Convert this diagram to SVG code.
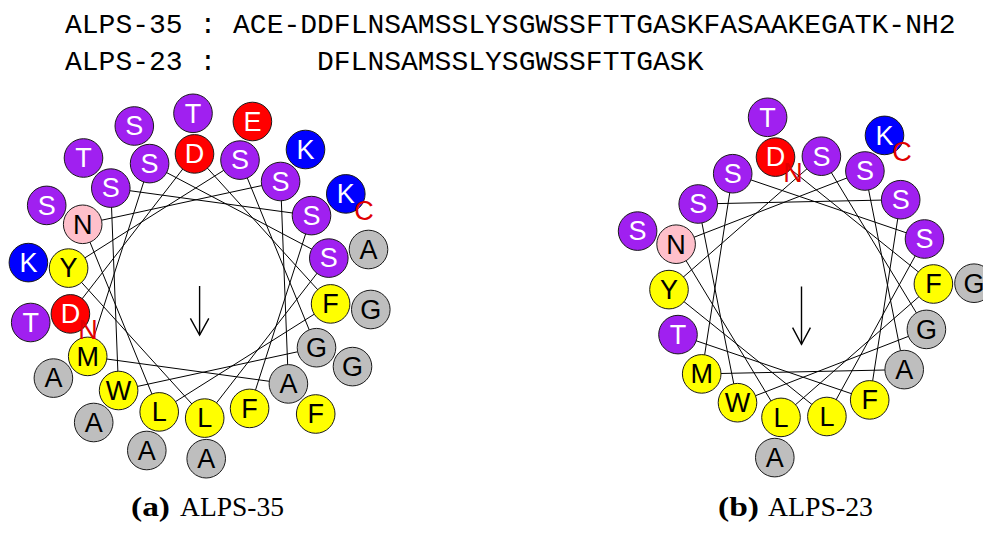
<svg xmlns="http://www.w3.org/2000/svg" width="983" height="545" viewBox="0 0 983 545">
<style>
.seq{font-family:"Liberation Mono","Courier New",monospace;font-size:28px;fill:#000}
.cap{font-family:"Liberation Serif","Times New Roman",serif;font-size:27px;fill:#000}
.capb{font-family:"Liberation Serif","Times New Roman",serif;font-size:27px;font-weight:bold;fill:#000}
circle{stroke:#1a1a1a;stroke-width:1}
.pu{fill:#A020F0}.rd{fill:#FF0000}.bl{fill:#0000FF}.ye{fill:#FFFF00}.gy{fill:#BEBEBE}.pk{fill:#FFC0CB}
.res text{font-family:"Liberation Sans",Arial,sans-serif;font-size:27px;text-anchor:middle}
.w{fill:#fff}.k{fill:#000}
.term{font-family:"Liberation Sans",Arial,sans-serif;font-size:17px;fill:#E00000;text-anchor:middle}
.con line{stroke:#000;stroke-width:1;fill:none}
.arr line,.arr polyline{stroke:#000;stroke-width:1.4;fill:none}
</style>
<defs>
<circle id="c" r="19.3"/>
</defs>

<g id="sequences">
<text class="seq" x="65" y="33.3">ALPS-35 : ACE-DDFLNSAMSSLYSGWSSFTTGASKFASAAKEGATK-NH2</text>
<text class="seq" x="65" y="70">ALPS-23 :</text>
<text class="seq" x="317" y="70">DFLNSAMSSLYSGWSSFTTGASK</text>
</g>

<!-- connectors -->
<g id="connectors" class="con">
<g id="conn-a">
<line x1="70.4" y1="313.9" x2="194.5" y2="153.9"/>
<line x1="194.5" y1="153.9" x2="330.6" y2="303.9"/>
<line x1="330.6" y1="303.9" x2="159.2" y2="411.9"/>
<line x1="159.2" y1="411.9" x2="82.7" y2="224.3"/>
<line x1="82.7" y1="224.3" x2="280.6" y2="181.5"/>
<line x1="280.6" y1="181.5" x2="288.4" y2="383.9"/>
<line x1="288.4" y1="383.9" x2="87.7" y2="356.4"/>
<line x1="87.7" y1="356.4" x2="149.6" y2="163.6"/>
<line x1="149.6" y1="163.6" x2="328.8" y2="258.1"/>
<line x1="328.8" y1="258.1" x2="204.7" y2="418.1"/>
<line x1="204.7" y1="418.1" x2="68.6" y2="268.1"/>
<line x1="68.6" y1="268.1" x2="240.0" y2="160.1"/>
<line x1="240.0" y1="160.1" x2="316.5" y2="347.7"/>
<line x1="316.5" y1="347.7" x2="118.6" y2="390.5"/>
<line x1="118.6" y1="390.5" x2="110.8" y2="188.1"/>
<line x1="110.8" y1="188.1" x2="311.5" y2="215.6"/>
<line x1="311.5" y1="215.6" x2="249.6" y2="408.4"/>
</g>
<g id="conn-b">
<line x1="775.5" y1="157.1" x2="933.4" y2="284.0"/>
<line x1="933.4" y1="284.0" x2="781.0" y2="417.4"/>
<line x1="781.0" y1="417.4" x2="676.1" y2="244.2"/>
<line x1="676.1" y1="244.2" x2="864.9" y2="171.0"/>
<line x1="864.9" y1="171.0" x2="904.2" y2="369.6"/>
<line x1="904.2" y1="369.6" x2="701.7" y2="373.9"/>
<line x1="701.7" y1="373.9" x2="732.7" y2="173.7"/>
<line x1="732.7" y1="173.7" x2="924.5" y2="239.0"/>
<line x1="924.5" y1="239.0" x2="826.9" y2="416.5"/>
<line x1="826.9" y1="416.5" x2="669.0" y2="289.6"/>
<line x1="669.0" y1="289.6" x2="821.4" y2="156.2"/>
<line x1="821.4" y1="156.2" x2="926.4" y2="329.4"/>
<line x1="926.4" y1="329.4" x2="737.5" y2="402.7"/>
<line x1="737.5" y1="402.7" x2="698.2" y2="204.0"/>
<line x1="698.2" y1="204.0" x2="900.7" y2="199.7"/>
<line x1="900.7" y1="199.7" x2="869.7" y2="399.9"/>
<line x1="869.7" y1="399.9" x2="678.0" y2="334.6"/>
</g>
</g>

<g id="moments" class="arr">
<line x1="199.6" y1="286" x2="199.6" y2="335"/>
<polyline points="190.4,318.3 199.6,335 208.8,318.3"/>
<line x1="801.5" y1="286.5" x2="801.5" y2="344.3"/>
<polyline points="792.6,327.7 801.5,344.3 810.4,327.7"/>
</g>

<!-- ALPS-35 wheel: outer ring -->
<g id="wheel-a" class="res">
<g id="a19"><use href="#c" x="30.7" y="322.5" class="pu"/><text x="30.7" y="331.8" class="w">T</text></g>
<g id="a20"><use href="#c" x="193.0" y="113.3" class="pu"/><text x="193.0" y="122.6" class="w">T</text></g>
<g id="a21"><use href="#c" x="370.8" y="309.5" class="gy"/><text x="370.8" y="318.8" class="k">G</text></g>
<g id="a22"><use href="#c" x="146.8" y="450.5" class="gy"/><text x="146.8" y="459.8" class="k">A</text></g>
<g id="a23"><use href="#c" x="46.7" y="205.4" class="pu"/><text x="46.7" y="214.7" class="w">S</text></g>
<g id="a24"><use href="#c" x="305.5" y="149.5" class="bl"/><text x="305.5" y="158.8" class="w">K</text></g>
<g id="a25"><use href="#c" x="315.7" y="414.0" class="ye"/><text x="315.7" y="423.3" class="k">F</text></g>
<g id="a26"><use href="#c" x="53.4" y="378.1" class="gy"/><text x="53.4" y="387.4" class="k">A</text></g>
<g id="a27"><use href="#c" x="134.3" y="126.0" class="pu"/><text x="134.3" y="135.3" class="w">S</text></g>
<g id="a28"><use href="#c" x="368.5" y="249.5" class="gy"/><text x="368.5" y="258.8" class="k">A</text></g>
<g id="a29"><use href="#c" x="206.2" y="458.7" class="gy"/><text x="206.2" y="468.0" class="k">A</text></g>
<g id="a30"><use href="#c" x="28.4" y="262.6" class="bl"/><text x="28.4" y="271.9" class="w">K</text></g>
<g id="a31"><use href="#c" x="252.4" y="121.5" class="rd"/><text x="252.4" y="130.8" class="w">E</text></g>
<g id="a32"><use href="#c" x="352.5" y="366.6" class="gy"/><text x="352.5" y="375.9" class="k">G</text></g>
<g id="a33"><use href="#c" x="93.7" y="422.5" class="gy"/><text x="93.7" y="431.8" class="k">A</text></g>
<g id="a34"><use href="#c" x="83.5" y="158.0" class="pu"/><text x="83.5" y="167.3" class="w">T</text></g>
<g id="a35"><use href="#c" x="345.8" y="193.9" class="bl"/><text x="345.8" y="203.2" class="w">K</text></g>
<!-- inner ring -->
<g id="a1"><use href="#c" x="70.4" y="313.9" class="rd"/><text x="70.4" y="323.2" class="w">D</text></g>
<g id="a2"><use href="#c" x="194.5" y="153.9" class="rd"/><text x="194.5" y="163.2" class="w">D</text></g>
<g id="a3"><use href="#c" x="330.6" y="303.9" class="ye"/><text x="330.6" y="313.2" class="k">F</text></g>
<g id="a4"><use href="#c" x="159.2" y="411.9" class="ye"/><text x="159.2" y="421.2" class="k">L</text></g>
<g id="a5"><use href="#c" x="82.7" y="224.3" class="pk"/><text x="82.7" y="233.6" class="k">N</text></g>
<g id="a6"><use href="#c" x="280.6" y="181.5" class="pu"/><text x="280.6" y="190.8" class="w">S</text></g>
<g id="a7"><use href="#c" x="288.4" y="383.9" class="gy"/><text x="288.4" y="393.2" class="k">A</text></g>
<g id="a8"><use href="#c" x="87.7" y="356.4" class="ye"/><text x="87.7" y="365.7" class="k">M</text></g>
<g id="a9"><use href="#c" x="149.6" y="163.6" class="pu"/><text x="149.6" y="172.9" class="w">S</text></g>
<g id="a10"><use href="#c" x="328.8" y="258.1" class="pu"/><text x="328.8" y="267.4" class="w">S</text></g>
<g id="a11"><use href="#c" x="204.7" y="418.1" class="ye"/><text x="204.7" y="427.4" class="k">L</text></g>
<g id="a12"><use href="#c" x="68.6" y="268.1" class="ye"/><text x="68.6" y="277.4" class="k">Y</text></g>
<g id="a13"><use href="#c" x="240.0" y="160.1" class="pu"/><text x="240.0" y="169.4" class="w">S</text></g>
<g id="a14"><use href="#c" x="316.5" y="347.7" class="gy"/><text x="316.5" y="357.0" class="k">G</text></g>
<g id="a15"><use href="#c" x="118.6" y="390.5" class="ye"/><text x="118.6" y="399.8" class="k">W</text></g>
<g id="a16"><use href="#c" x="110.8" y="188.1" class="pu"/><text x="110.8" y="197.4" class="w">S</text></g>
<g id="a17"><use href="#c" x="311.5" y="215.6" class="pu"/><text x="311.5" y="224.9" class="w">S</text></g>
<g id="a18"><use href="#c" x="249.6" y="408.4" class="ye"/><text x="249.6" y="417.7" class="k">F</text></g>
<text class="term" x="88" y="338.5">N</text>
<text class="term" x="364" y="220">C</text>
</g>

<!-- ALPS-23 wheel -->
<g id="wheel-b" class="res">
<g id="b19"><use href="#c" x="767.6" y="117.3" class="pu"/><text x="767.6" y="126.6" class="w">T</text></g>
<g id="b20"><use href="#c" x="974.0" y="283.2" class="gy"/><text x="974.0" y="292.5" class="k">G</text></g>
<g id="b21"><use href="#c" x="774.8" y="457.6" class="gy"/><text x="774.8" y="466.9" class="k">A</text></g>
<g id="b22"><use href="#c" x="637.6" y="231.1" class="pu"/><text x="637.6" y="240.4" class="w">S</text></g>
<g id="b23"><use href="#c" x="884.5" y="135.4" class="bl"/><text x="884.5" y="144.7" class="w">K</text></g>
<g id="b1"><use href="#c" x="775.5" y="157.1" class="rd"/><text x="775.5" y="166.4" class="w">D</text></g>
<g id="b2"><use href="#c" x="933.4" y="284.0" class="ye"/><text x="933.4" y="293.3" class="k">F</text></g>
<g id="b3"><use href="#c" x="781.0" y="417.4" class="ye"/><text x="781.0" y="426.7" class="k">L</text></g>
<g id="b4"><use href="#c" x="676.1" y="244.2" class="pk"/><text x="676.1" y="253.5" class="k">N</text></g>
<g id="b5"><use href="#c" x="864.9" y="171.0" class="pu"/><text x="864.9" y="180.3" class="w">S</text></g>
<g id="b6"><use href="#c" x="904.2" y="369.6" class="gy"/><text x="904.2" y="378.9" class="k">A</text></g>
<g id="b7"><use href="#c" x="701.7" y="373.9" class="ye"/><text x="701.7" y="383.2" class="k">M</text></g>
<g id="b8"><use href="#c" x="732.7" y="173.7" class="pu"/><text x="732.7" y="183.0" class="w">S</text></g>
<g id="b9"><use href="#c" x="924.5" y="239.0" class="pu"/><text x="924.5" y="248.3" class="w">S</text></g>
<g id="b10"><use href="#c" x="826.9" y="416.5" class="ye"/><text x="826.9" y="425.8" class="k">L</text></g>
<g id="b11"><use href="#c" x="669.0" y="289.6" class="ye"/><text x="669.0" y="298.9" class="k">Y</text></g>
<g id="b12"><use href="#c" x="821.4" y="156.2" class="pu"/><text x="821.4" y="165.5" class="w">S</text></g>
<g id="b13"><use href="#c" x="926.4" y="329.4" class="gy"/><text x="926.4" y="338.7" class="k">G</text></g>
<g id="b14"><use href="#c" x="737.5" y="402.7" class="ye"/><text x="737.5" y="412.0" class="k">W</text></g>
<g id="b15"><use href="#c" x="698.2" y="204.0" class="pu"/><text x="698.2" y="213.3" class="w">S</text></g>
<g id="b16"><use href="#c" x="900.7" y="199.7" class="pu"/><text x="900.7" y="209.0" class="w">S</text></g>
<g id="b17"><use href="#c" x="869.7" y="399.9" class="ye"/><text x="869.7" y="409.2" class="k">F</text></g>
<g id="b18"><use href="#c" x="678.0" y="334.6" class="pu"/><text x="678.0" y="343.9" class="w">T</text></g>
<text class="term" x="793" y="181.5">N</text>
<text class="term" x="902" y="161">C</text>
</g>

<g id="captions">
<text class="capb" x="131" y="516" textLength="39" lengthAdjust="spacingAndGlyphs">(a)</text>
<text class="cap" x="180" y="516" textLength="104" lengthAdjust="spacingAndGlyphs">ALPS-35</text>
<text class="capb" x="718" y="516" textLength="41" lengthAdjust="spacingAndGlyphs">(b)</text>
<text class="cap" x="768" y="516" textLength="105" lengthAdjust="spacingAndGlyphs">ALPS-23</text>
</g>
</svg>
